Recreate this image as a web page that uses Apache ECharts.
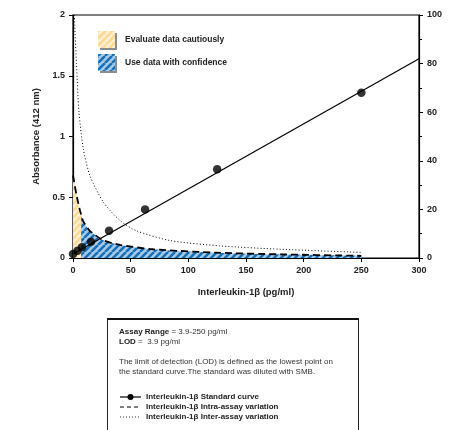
<!DOCTYPE html>
<html><head><meta charset="utf-8">
<script src="https://cdn.jsdelivr.net/npm/echarts@6/dist/echarts.min.js"></script>
<style>html,body{margin:0;padding:0;background:#fff}#c{width:455px;height:430px}</style>
</head><body><div id="c"></div>
<script>
// ---- data ----
const stdConc = [0, 3.9, 7.8, 15.6, 31.25, 62.5, 125, 250];
const stdAbs  = [0.033, 0.06, 0.088, 0.134, 0.225, 0.40, 0.73, 1.36];
const fitConc = [0, 300];
const fitAbs  = [0.033, 1.64];
const intraConc = [0, 2.9, 5.8, 7, 8.7, 14.6, 26.3, 40.6, 69.4, 124.4, 180, 250];
const intraCV   = [34, 26.3, 20, 18, 15.3, 11.2, 7.3, 5.4, 3.6, 2.2, 1.5, 0.9];
const interConc = [1.2, 1.5, 3, 5.2, 8.9, 14.6, 26.3, 40.6, 55, 84, 127, 180, 250];
const interCV   = [100, 96, 80, 60, 45, 34, 23, 15.5, 11.2, 7.2, 5, 3.6, 2.3];
const cautionLimit = 7;           // end of "evaluate cautiously" zone
const xTicks = [0, 50, 100, 150, 200, 250, 300];
const leftTicks = [0, 0.5, 1, 1.5, 2];
const rightTicks = [0, 20, 40, 60, 80, 100];

function pairs(xs, ys){ return xs.map((x,i)=>[x, ys[i]]); }
function makePattern(bg, stripe, size, w){
  const c = document.createElement('canvas'); c.width = size; c.height = size;
  const g = c.getContext('2d');
  g.fillStyle = bg; g.fillRect(0,0,size,size);
  g.strokeStyle = stripe; g.lineWidth = w;
  for (let k=-1;k<=1;k++){ g.beginPath(); g.moveTo(k*size, size); g.lineTo(k*size+size, 0); g.stroke(); }
  return {image: c, repeat: 'repeat'};
}
const bluePat = makePattern('#a9cbe9', '#1670b8', 7, 2.6);
const yellowPat = makePattern('#fdd996', '#fff1d6', 7, 2.4);

const intraAll = pairs(intraConc, intraCV);
const yellowData = intraAll.filter(p => p[0] <= cautionLimit);
const blueData = intraAll.filter(p => p[0] >= cautionLimit);

const F = 'Liberation Sans, Arial, Helvetica, sans-serif';
const chart = echarts.init(document.getElementById('c'), null, {renderer: 'canvas'});
const axisLine = {show: true, lineStyle: {color: '#000', width: 1.2}};
const tickStyle = {show: true, length: 4, inside: false, lineStyle: {color: '#000', width: 1}};
const lab = {color: '#222', fontFamily: F, fontWeight: 'bold', fontSize: 9, margin: 8};
const SM = 0.25;

chart.setOption({
  animation: false,
  grid: {left: 73, right: 36, top: 15, bottom: 172, show: true, borderColor: '#000', borderWidth: 1.2, backgroundColor: 'transparent'},
  xAxis: {type: 'value', min: 0, max: 300, interval: 50,
    name: 'Interleukin-1β (pg/ml)', nameLocation: 'middle', nameGap: 29,
    nameTextStyle: {fontFamily: F, fontWeight: 'bold', fontSize: 9.5, color: '#222'},
    axisLine, axisTick: tickStyle, splitLine: {show: false},
    axisLabel: Object.assign({}, lab, {formatter: v => xTicks.includes(v) ? String(v) : ''})},
  yAxis: [
    {type: 'value', min: 0, max: 2, interval: 0.5,
     name: 'Absorbance (412 nm)', nameLocation: 'middle', nameGap: 24,
     nameTextStyle: {fontFamily: F, fontWeight: 'bold', fontSize: 9.5, color: '#222'},
     axisLine, axisTick: tickStyle, splitLine: {show: false},
     axisLabel: Object.assign({}, lab, {formatter: v => leftTicks.includes(v) ? String(v) : ''})},
    {type: 'value', min: 0, max: 100, interval: 20, position: 'right',
     axisLine, axisTick: tickStyle, splitLine: {show: false},
     minorTick: {show: true, splitNumber: 2, length: 3, lineStyle: {color: '#000', width: 1}},
     axisLabel: Object.assign({}, lab, {formatter: v => rightTicks.includes(v) ? String(v) : ''})}
  ],
  series: [
    {type: 'line', yAxisIndex: 1, data: blueData, smooth: SM, symbol: 'none',
     lineStyle: {width: 0, opacity: 0}, areaStyle: {color: bluePat, opacity: 1}, z: 1},
    {type: 'line', yAxisIndex: 1, data: yellowData, smooth: SM, symbol: 'none',
     lineStyle: {width: 0, opacity: 0}, areaStyle: {color: yellowPat, opacity: 1}, z: 1},
    {type: 'line', yAxisIndex: 1, data: intraAll, smooth: SM, symbol: 'none',
     lineStyle: {color: '#000', width: 1.8, type: [7, 4]}, z: 3},
    {type: 'line', yAxisIndex: 1, data: pairs(interConc, interCV), smooth: SM, symbol: 'none',
     lineStyle: {color: '#000', width: 1, type: [1, 2.2]}, z: 3},
    {type: 'line', yAxisIndex: 0, data: pairs(fitConc, fitAbs), symbol: 'none',
     lineStyle: {color: '#000', width: 1.2}, z: 4},
    {type: 'scatter', yAxisIndex: 0, data: pairs(stdConc, stdAbs), symbol: 'circle', symbolSize: 8.5,
     itemStyle: {color: '#000'}, z: 5}
  ],
  graphic: [
    {type: 'rect', shape: {x: 100, y: 33, width: 17, height: 17}, style: {fill: '#8c8c8c'}, z: 10},
    {type: 'rect', shape: {x: 98, y: 31, width: 17, height: 17}, style: {fill: yellowPat}, z: 11},
    {type: 'text', x: 125, y: 40, style: {text: 'Evaluate data cautiously', font: 'bold 8.5px ' + F, fill: '#222', textVerticalAlign: 'middle'}, z: 11},
    {type: 'rect', shape: {x: 100, y: 56, width: 17, height: 17}, style: {fill: '#8c8c8c'}, z: 10},
    {type: 'rect', shape: {x: 98, y: 54, width: 17, height: 17}, style: {fill: bluePat}, z: 11},
    {type: 'text', x: 125, y: 63, style: {text: 'Use data with confidence', font: 'bold 8.5px ' + F, fill: '#222', textVerticalAlign: 'middle'}, z: 11},

    {type: 'rect', shape: {x: 107.5, y: 319, width: 251, height: 120}, style: {fill: '#fff', stroke: '#222', lineWidth: 1}, z: 10},
    {type: 'line', shape: {x1: 107, y1: 319, x2: 359, y2: 319}, style: {stroke: '#111', lineWidth: 2}, z: 11},
    {type: 'text', x: 119, y: 332, style: {text: '{b|Assay Range} = 3.9-250 pg/ml', font: '8px ' + F, fill: '#333', textVerticalAlign: 'middle',
      rich: {b: {fontWeight: 'bold', fontSize: 8, fontFamily: F, fill: '#222'}}}, z: 11},
    {type: 'text', x: 119, y: 342, style: {text: '{b|LOD} =  3.9 pg/ml', font: '8px ' + F, fill: '#333', textVerticalAlign: 'middle',
      rich: {b: {fontWeight: 'bold', fontSize: 8, fontFamily: F, fill: '#222'}}}, z: 11},
    {type: 'text', x: 119, y: 362, style: {text: 'The limit of detection (LOD) is defined as the lowest point on', font: '8px ' + F, fill: '#333', textVerticalAlign: 'middle'}, z: 11},
    {type: 'text', x: 119, y: 372, style: {text: 'the standard curve.The standard was diluted with SMB.', font: '8px ' + F, fill: '#333', textVerticalAlign: 'middle'}, z: 11},
    {type: 'line', shape: {x1: 120, y1: 397, x2: 141, y2: 397}, style: {stroke: '#000', lineWidth: 1.2}, z: 11},
    {type: 'circle', shape: {cx: 130.5, cy: 397, r: 3}, style: {fill: '#000'}, z: 11},
    {type: 'text', x: 146, y: 397, style: {text: 'Interleukin-1β Standard curve', font: 'bold 8px ' + F, fill: '#222', textVerticalAlign: 'middle'}, z: 11},
    {type: 'line', shape: {x1: 120, y1: 407, x2: 141, y2: 407}, style: {stroke: '#000', lineWidth: 1.2, lineDash: [4, 3]}, z: 11},
    {type: 'text', x: 146, y: 407, style: {text: 'Interleukin-1β Intra-assay variation', font: 'bold 8px ' + F, fill: '#222', textVerticalAlign: 'middle'}, z: 11},
    {type: 'line', shape: {x1: 120, y1: 417, x2: 141, y2: 417}, style: {stroke: '#000', lineWidth: 0.8, lineDash: [1, 2]}, z: 11},
    {type: 'text', x: 146, y: 417, style: {text: 'Interleukin-1β Inter-assay variation', font: 'bold 8px ' + F, fill: '#222', textVerticalAlign: 'middle'}, z: 11}
  ]
});
</script></body></html>
